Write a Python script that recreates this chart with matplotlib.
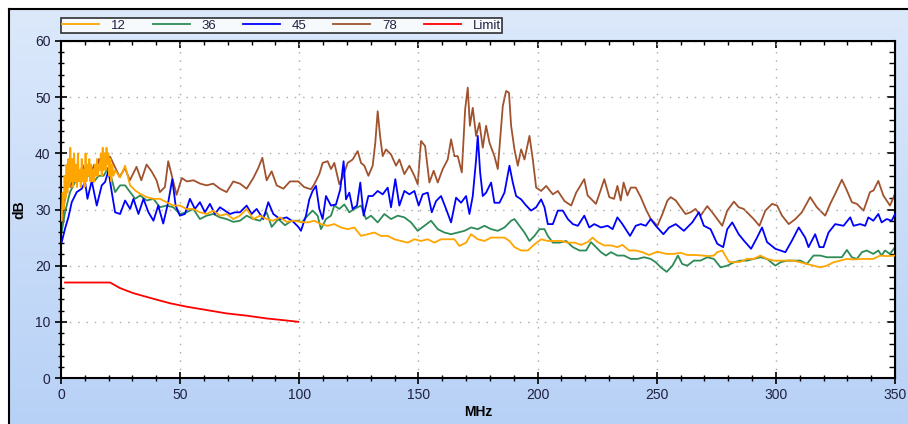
import matplotlib
matplotlib.use("Agg")
import matplotlib.pyplot as plt
import matplotlib.ticker as ticker
from matplotlib.lines import Line2D
import numpy as np

plt.rcParams['font.family'] = ['Liberation Sans', 'DejaVu Sans']

# ---- data (MHz, dB) ----
f_12 = [0.3, 0.7, 1.1, 1.5, 1.9, 2.3, 2.7, 3.1, 3.5, 3.9, 4.3, 4.7, 5.1, 5.5, 5.9, 6.3, 6.7, 7.1, 7.5, 7.9,
        8.3, 8.7, 9.1, 9.5, 9.9, 10.3, 10.7, 11.1, 11.5, 11.9, 12.3, 12.7, 13.1, 13.5, 13.9, 14.3, 14.7, 15.1,
        15.5, 15.9, 16.3, 16.7, 17.1, 17.5, 17.9, 18.3, 18.7, 19.1, 19.5, 19.9, 20.3, 20.7, 21.1, 21.5, 22.0,
        22.7, 24.8, 26.9, 29, 31.1, 33.2, 36, 38.8, 41.5, 44.3, 47.1, 49.9, 52.7, 55.5, 58.3, 61.1, 63.9, 66.7,
        69.5, 72.3, 75.1, 77.9, 80.7, 83.5, 86.3, 89.1, 91.9, 94.7, 97.5, 100.3, 103.5, 106.3, 109.1, 111.9,
        114.7, 117.5, 120.3, 123.1, 125.9, 128.7, 131.5, 134.3, 137.1, 139.9, 142.7, 145.5, 148.3, 151.1,
        153.9, 156.7, 159.5, 162.3, 165.1, 167.2, 170, 172.1, 174.9, 177.7, 180.5, 183.3, 186.1, 188.2, 190.3,
        193.1, 195.9, 198.7, 201.5, 204.3, 207.1, 209.9, 212.7, 215.5, 218.3, 221, 223.1, 225.2, 228, 230.8,
        233.5, 235.6, 238.4, 241.2, 244, 246.8, 250.3, 253.8, 257.3, 260, 262.8, 266.3, 269.1, 271.9, 274,
        275.4, 277.5, 278.9, 280.3, 282.4, 285.1, 287.9, 290.7, 293.5, 296.3, 299.1, 301.9, 304.7, 307.5,
        310.3, 313, 315.8, 318.6, 321.4, 324.2, 327, 329.8, 332.6, 335.4, 338.1, 340.9, 343.7, 346.5, 350]
db_12 = [28, 33, 30, 36, 32, 38, 33, 39, 34, 41, 35, 39, 34, 40, 35, 38, 34, 40, 35, 37,
         34, 39, 35, 37, 34, 40, 35, 38, 36, 39, 35, 38, 35, 37, 35, 38, 36, 39,
         36, 38, 37, 40, 36, 41, 37, 40, 37, 41, 38, 40, 36, 39, 35, 38, 36,
         37, 35.7, 37.8, 34.3, 33.4, 32.8, 32.2, 31.9, 31.9, 31.3, 30.7, 30.7, 30.1, 30.1, 29.5, 29.2, 29.8, 28.9,
         29.2, 28.3, 28.9, 30.1, 28.3, 28.9, 28.3, 28, 28.6, 27.8, 28, 27.8, 27.7, 28, 27.4, 27.1,
         27.4, 26.8, 26.5, 26.8, 25.3, 25.6, 25.9, 25.3, 25.3, 24.7, 24.4, 24.1, 24.7, 24.4,
         24.7, 24.1, 24.7, 24.7, 24.7, 23.5, 24.1, 25.6, 24.7, 24.4, 25, 25, 25, 24.4, 23.3,
         22.7, 22.7, 23.8, 24.7, 24.4, 24.4, 24.4, 24.1, 24.1, 23.7, 24.2, 25, 24.2, 23.6, 23.6,
         23.3, 23.7, 22.7, 22.7, 22.4, 21.9, 22.5, 22.1, 22.1, 22.3, 21.9, 21.9, 21.8, 21.7, 21.8,
         22.4, 22.7, 21.7, 20.7, 20.6, 20.7, 21.2, 21.2, 21.8, 21.2, 20.9, 20.9, 20.9, 20.9,
         20.6, 20.3, 20, 19.7, 20, 20.6, 20.9, 21.2, 21.1, 21.2, 21.2, 21.2, 21.8, 21.7, 21.8]

f_36 = [0.3, 1.7, 3.8, 5.9, 8, 10.1, 12, 13.7, 15.8, 17.9, 19.9, 21.3, 22.7, 24.8, 26.9, 29, 31.1, 33.2, 36,
        38.8, 41.5, 44.3, 47.1, 49.9, 52.7, 55.5, 58.3, 61.1, 63.9, 66.7, 69.5, 72.3, 75.1, 77.9, 80.7, 83.5,
        86.3, 88.4, 91.2, 94, 96.8, 99.6, 101, 103.5, 105.6, 107.7, 109.1, 111.2, 113.3, 114.7, 116.8, 118.9,
        121, 123.1, 125.9, 128, 130.1, 132.9, 135.7, 138.5, 141.3, 144.1, 146.9, 149.7, 152.5, 155.3, 158.1,
        160.9, 163.7, 166.5, 169.3, 172.1, 174.9, 177.7, 180.5, 183.3, 186.1, 188.9, 190.3, 192.4, 194.5,
        196.6, 198.7, 200.8, 202.9, 204.3, 206.4, 209.2, 212, 214.8, 217.6, 220.4, 222.4, 224.5, 226.6, 228.7,
        230.8, 233.5, 236.3, 239.1, 241.9, 244.7, 247.5, 249.6, 251.7, 254.2, 256.6, 258.9, 260.7, 262.8,
        265.6, 268.4, 271.2, 274, 276.8, 279.6, 282.4, 285.1, 287.9, 290.7, 293.5, 296.3, 299.8, 301.9,
        304.7, 307.5, 310.3, 313, 315.8, 318.6, 321.4, 324.9, 327.7, 329.8, 331.9, 334, 336.1, 338.1, 340.9,
        343, 344.4, 345.8, 347.9, 350]
db_36 = [26, 29.5, 33.1, 34.9, 35.7, 35.4, 36.3, 34.9, 36, 36, 37.5, 35.4, 33.1, 34.3, 34.3, 33.1, 31.9, 32.5, 31.6,
         31.9, 30.4, 30.7, 30.4, 29.2, 29.5, 30.1, 28.3, 28.9, 29.2, 28.6, 28.3, 27.8, 28, 28.9, 28.3, 28,
         29.5, 26.9, 28.3, 27.2, 28, 28, 27.7, 28.9, 29.8, 28.9, 26.5, 28.3, 28.9, 30.7, 30.1, 30.9,
         29.5, 30.1, 30.7, 28.3, 28.9, 27.7, 29.2, 28.3, 28.9, 28.6, 27.7, 26.2, 27.1, 28, 26.5,
         25.9, 25.6, 25.9, 26.2, 26.8, 26.5, 27.1, 26.5, 26.2, 26.8, 28, 28.3, 27.1, 25.9,
         24.4, 25.3, 26.5, 26.5, 25.3, 24.1, 24.1, 24.4, 23.3, 22.7, 22.7, 24.2, 23.3, 22.4, 21.8,
         22.4, 21.8, 21.8, 21.2, 21.2, 21.5, 21.2, 20.6, 19.7, 18.9, 20, 21.8, 20.3, 20,
         20.9, 20.9, 21.5, 21.2, 19.7, 20, 20.6, 20.9, 20.9, 21.2, 21.5, 21.2, 20, 20.6,
         20.9, 20.9, 20.9, 20.3, 21.8, 21.8, 21.5, 21.5, 21.5, 22.8, 21.5, 21.2, 22.4, 22.7, 22.1,
         22.7, 21.8, 22.7, 22.1, 23.3]

f_45 = [0.3, 1.7, 3.1, 4.5, 6.6, 8.7, 10.1, 11.1, 12.9, 15, 17.1, 18.5, 19.9, 21.3, 22.7, 24.8, 26.9, 29, 30.4,
        32.5, 34.6, 36.7, 38.8, 40.8, 42.9, 45, 46.7, 48.1, 49.9, 52, 54.1, 56.2, 58.3, 60.4, 62.5, 64.6, 66.7,
        68.8, 70.9, 73, 75.1, 77.9, 80, 82.1, 84.9, 87, 89.1, 91.9, 94.7, 97.5, 99.6, 100.7, 102.8, 104.2,
        105.6, 107, 108.4, 109.8, 111.2, 113.3, 115.4, 117.2, 118.6, 119.6, 121, 122.4, 124.2, 125.6, 127,
        129, 130.8, 132.9, 135, 137.1, 138.5, 140.3, 142, 144.1, 146.2, 148.3, 150.1, 151.8, 153.9, 155.6,
        157.4, 159.5, 161.6, 163.7, 165.8, 167.9, 170, 171.4, 172.8, 174.2, 174.9, 175.9, 177, 178.4, 180.5,
        181.9, 184, 186.1, 188.2, 189.6, 191, 193.1, 195.2, 197.3, 199.4, 201.5, 202.9, 204.3, 206.4, 208.5,
        210.6, 212.7, 214.8, 216.9, 219.6, 221.7, 223.8, 226.6, 229.4, 231.5, 233.5, 235.6, 238.8, 241.2,
        243.3, 245.4, 247.5, 249.6, 252.8, 255.2, 258, 261.4, 264.9, 267.7, 269.8, 272.6, 275.4, 277.9,
        279.6, 281.7, 284.4, 286.5, 289.6, 292.1, 294.2, 296.3, 299.8, 304, 306.8, 309.6, 312.3, 313.7,
        316.5, 318.3, 320, 322.1, 324.9, 328.4, 331.2, 332.6, 335.4, 337.5, 338.8, 340.9, 343, 344.4, 346.5,
        348.6, 350]
db_45 = [24.2, 26.6, 28.6, 31.3, 33.1, 33.7, 34.9, 31.9, 35.1, 30.7, 34.3, 34.9, 36.9, 33.1, 29.5, 29.2, 31.6, 30.1, 31.9,
         29.2, 31.9, 29.5, 28, 30.7, 27.5, 31.3, 35.4, 30.7, 28.9, 29.2, 31.9, 30.1, 31.3, 29.5, 31, 29.2, 30.4,
         29.8, 29.2, 29.5, 29.5, 30.7, 29.2, 30.1, 28.3, 31.3, 29.2, 28.3, 28.6, 27.8, 26.9, 26.2, 28.9, 31.8,
         33.3, 34.2, 30.1, 28.3, 32.4, 30.7, 30.9, 33.6, 38.6, 31.8, 33, 30.1, 30.7, 34.8, 28.9,
         32.4, 32.4, 33.3, 32.7, 33.9, 30.4, 35.4, 30.7, 33.3, 32.7, 33.3, 30.7, 32.7, 33, 29.5,
         31.5, 32.4, 30.1, 27.7, 32.1, 31.2, 32.4, 29.2, 32.4, 38.9, 43.1, 36.6, 32.4, 33, 34.8,
         31.2, 31.2, 33, 37.8, 34.8, 32.4, 31.8, 30.7, 29.8, 30.4, 31.8, 30.4, 27.4, 27.4, 29.8,
         29.8, 28.3, 27.4, 27.1, 28.9, 26.8, 27.4, 26.8, 27.1, 26.5, 28.6, 27.4, 25.3, 27.1,
         27.4, 27.1, 28.3, 27.1, 25.6, 26.8, 27.4, 26.2, 27.7, 29.5, 27.1, 26.5, 23.9, 23.3,
         26.5, 27.7, 25.6, 24.5, 23, 25, 26.8, 24.2, 23, 22.4, 24.5, 26.8, 25, 23.3,
         25.6, 23.3, 23.3, 25.9, 27.4, 27.1, 28.6, 27.1, 27.4, 27.1, 28.6, 28, 29.2, 27.7, 28.3,
         28, 29.2]

f_78 = [0.3, 1, 2, 3, 4, 5, 6, 7, 8, 9, 10, 11, 12, 13, 14, 15, 16, 17, 18, 19, 20.6, 22.6, 24.6, 26.8, 28.9,
        31.7, 33.7, 35.9, 38, 40.1, 41.5, 43.6, 45, 46.4, 48.5, 50.7, 52.8, 55.6, 58.4, 61.1, 63.9, 66.7, 69.5,
        72.3, 75.1, 77.9, 80.7, 82.8, 84.5, 86.3, 88.4, 90.5, 93.3, 96.1, 99.6, 102, 104.9, 106.3, 108.4,
        109.8, 111.9, 113.3, 114.7, 116.8, 118.2, 120.3, 122.4, 124.5, 125.9, 127.3, 129, 130.8, 131.9, 132.9,
        133.9, 135, 136.4, 138.5, 140.6, 142, 144.1, 146.2, 148.3, 149.7, 151.1, 152.8, 154.6, 156.4, 158.1,
        160.2, 162.3, 163.7, 165.1, 166.5, 168.2, 169.6, 170.7, 171.6, 172.8, 174.2, 175.6, 177, 178.4, 179.8,
        181.9, 183.3, 185.4, 186.8, 188, 188.9, 190.3, 191.7, 193.1, 194.5, 196.6, 198, 199.4, 201.5, 203.6,
        206.4, 208.5, 211.3, 214.1, 216.2, 219.6, 221, 224.5, 226.6, 228, 230.1, 232.1, 233.5, 234.9, 236.1,
        237.7, 239.1, 241.2, 243.3, 245.4, 247.5, 250.3, 252.4, 254.5, 255.9, 258, 260, 262.1, 264.2, 266.3,
        268.4, 271.2, 273.3, 275.4, 277.5, 279.6, 282.4, 284.4, 286.5, 288.6, 290.7, 293.1, 295.6, 298.4,
        300.5, 302.6, 305.4, 308.2, 310.9, 314.4, 317.2, 320.7, 322.8, 324.9, 327.7, 329.8, 331.9, 334,
        336.8, 339.5, 341, 343, 345.1, 347.9, 350]
db_78 = [27, 30, 33, 35, 34, 36, 35, 37, 36, 38, 37, 36, 38, 37, 38, 37, 39, 38, 40, 39, 39.4, 37.6, 35.8, 37.4, 35.2,
         37.6, 35.2, 38, 36.8, 35.2, 33.1, 34, 38.6, 36.2, 32.6, 35.6, 35, 35.2, 34.6, 34.3, 34.6, 33.7, 33.1,
         35, 34.6, 33.7, 35.6, 37.4, 39.2, 35.2, 36.8, 34.3, 33.7, 35, 35, 34, 33.6, 34.5, 36.3,
         38.3, 38.6, 37.2, 38.3, 34.5, 35.7, 38.3, 38.9, 40.4, 38.3, 37.8, 36, 37.8, 41.9, 47.5,
         43.1, 39.5, 40.7, 39.8, 37.8, 38.9, 36.3, 37.8, 36, 34.5, 42.2, 41.3, 34.8, 36.9, 34.8,
         37.2, 38.9, 42.5, 39.5, 39.5, 36.6, 47.8, 51.7, 44.9, 48.1, 43.1, 45.4, 41, 44.9, 41.9,
         39.5, 37.2, 48.4, 51.1, 50.8, 44.9, 40.7, 37.8, 40.7, 38.9, 43.1, 38.9, 33.9, 33.3, 34.2,
         32.7, 33.3, 31.5, 30.7, 33, 35.4, 32.5, 31, 33.6, 35.4, 32.2, 31.9, 34.2, 31.6, 34.8,
         32.5, 33.9, 33.9, 32.2, 30.1, 28.3, 27.1, 29.2, 31.6, 32.2, 31.6, 30.4, 29.2, 29.5, 30.1,
         28.9, 30.6, 29.5, 28.3, 27.1, 29.8, 31.4, 30.4, 30.1, 29.2, 28.3, 27.1, 29.8, 31,
         30.7, 28.9, 27.4, 28.3, 29.5, 32.2, 30.4, 28.9, 31, 32.8, 35.3, 33.4, 31.3, 31,
         29.8, 33.1, 33.4, 35.1, 32.5, 30.7, 32.8]

f_limit = [1.7, 20.6, 24.8, 30.4, 38.8, 45.8, 52.7, 61.1, 69.5, 77.9, 86.3, 93.3, 99.6]
db_limit = [17, 17, 16, 15.1, 14.1, 13.3, 12.7, 12.1, 11.5, 11.1, 10.6, 10.3, 10.0]

series = [("12", f_12, db_12, "#FFA500", 4),
          ("36", f_36, db_36, "#2E8B57", 2),
          ("45", f_45, db_45, "#0000FF", 3),
          ("78", f_78, db_78, "#A0522D", 1),
          ("Limit", f_limit, db_limit, "#FF0000", 5)]

W, H = 908, 424
fig = plt.figure(figsize=(W / 100, H / 100), dpi=100)
fig.patch.set_facecolor("white")

# light blue gradient panel behind the chart
bg = fig.add_axes([9 / W, 0, 1 - 9 / W, 1 - 9 / H], zorder=-10)
grad = np.linspace(0, 1, 256).reshape(-1, 1)
top = np.array([0xdc, 0xe9, 0xfb]) / 255
bot = np.array([0xb7, 0xd1, 0xf6]) / 255
img = top + (bot - top) * grad[:, :, None]
bg.imshow(img, aspect="auto", extent=[0, 1, 0, 1])
bg.set_axis_off()
fig.add_artist(Line2D([8.5 / W, 8.5 / W], [0, 1 - 8.5 / H], transform=fig.transFigure, color="black", lw=1.5))
fig.add_artist(Line2D([8.5 / W, 1], [1 - 8.5 / H, 1 - 8.5 / H], transform=fig.transFigure, color="black", lw=1.5))

ax = fig.add_axes([61 / W, 1 - 378 / H, (895 - 61) / W, (378 - 41) / H])
ax.set_facecolor("white")

handles = {}
for name, fx, fy, col, z in series:
    ln, = ax.plot(fx, fy, color=col, lw=1.3, zorder=z)
    handles[name] = ln

ax.set_xlim(0, 350)
ax.set_ylim(0, 60)
ax.xaxis.set_major_locator(ticker.MultipleLocator(50))
ax.xaxis.set_minor_locator(ticker.MultipleLocator(10))
ax.yaxis.set_major_locator(ticker.MultipleLocator(10))
ax.yaxis.set_minor_locator(ticker.MultipleLocator(2))
ax.grid(True, which="major", color="#a8a8a8", linestyle=(0, (1, 5)), lw=1.0)

lab_col = "#202040"
ax.tick_params(which="major", direction="inout", length=9, width=1.2, labelsize=10, labelcolor=lab_col, pad=3)
ax.tick_params(which="minor", direction="inout", length=5, width=1.0)
for s in ax.spines.values():
    s.set_linewidth(1.5)

sx = ax.secondary_xaxis("top")
sx.xaxis.set_major_locator(ticker.MultipleLocator(50))
sx.xaxis.set_minor_locator(ticker.MultipleLocator(10))
sx.tick_params(which="major", direction="in", length=5, width=1.2, labeltop=False)
sx.tick_params(which="minor", direction="in", length=3, width=1.0)
sy = ax.secondary_yaxis("right")
sy.yaxis.set_major_locator(ticker.MultipleLocator(10))
sy.yaxis.set_minor_locator(ticker.MultipleLocator(2))
sy.tick_params(which="major", direction="in", length=6, width=1.2, labelright=False)
sy.tick_params(which="minor", direction="in", length=4, width=1.0)

ax.set_xlabel("MHz", fontsize=10, fontweight="bold", labelpad=2)
ax.set_ylabel("dB", fontsize=10, fontweight="bold", labelpad=6)

leg = fig.legend([handles[n] for n in ["12", "36", "45", "78", "Limit"]], ["12", "36", "45", "78", "Limit"],
                 loc="lower left", bbox_to_anchor=(61 / W, 1 - 33 / H, 441 / W, 18 / H), mode="expand",
                 ncol=5, fontsize=9.5, frameon=True, fancybox=False, borderpad=0.1, borderaxespad=0,
                 handlelength=2.8, handletextpad=0.9, columnspacing=1.0)
leg.get_frame().set_edgecolor("black")
leg.get_frame().set_linewidth(1.2)
for t in leg.get_texts():
    t.set_color(lab_col)

fig.savefig("out.png", dpi=100)
